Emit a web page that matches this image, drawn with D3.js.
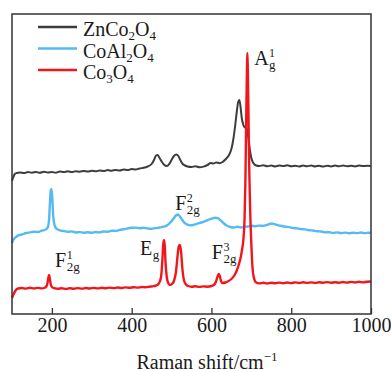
<!DOCTYPE html>
<html>
<head>
<meta charset="utf-8">
<script src="https://cdn.jsdelivr.net/npm/d3@7"></script>
<style>
  body { margin: 0; background: #fff; }
  text { font-family: "Liberation Serif", "Times New Roman", serif; fill: #1a1a1a; }
</style>
</head>
<body>
<div id="chart"></div>
<script>
// Raman spectra, stacked (intensity in arbitrary units, offsets included)
const seriesNames = ["ZnCo₂O₄", "CoAl₂O₄", "Co₃O₄"];
const legendParts = [["ZnCo", "2", "O", "4"], ["CoAl", "2", "O", "4"], ["Co", "3", "O", "4"]];
const xTicks = [200, 400, 600, 800, 1000];

const znco2o4 = [
  [100,133],[103,136.5],[107,140],[112,141],[120,141.6],[130,140.9],[140,142],[150,141.3],[160,142.1],
  [170,141.2],[180,142.3],[190,141.5],[200,142],[210,141.3],[220,142.4],[230,141.9],[240,142.7],
  [250,141.9],[260,142.8],[270,142.3],[280,143.1],[290,142.4],[300,143.2],[310,142.7],[320,143.6],
  [330,142.9],[340,143.9],[350,143.3],[360,144.1],[370,143.5],[380,144.5],[390,143.9],[400,145],
  [410,144.5],[420,145.6],[430,146.2],[440,147.5],[450,150],[456,154],[461,158.5],[465,159],
  [470,156],[476,152],[482,149],[488,148],[494,150],[500,154],[506,158],[512,159.5],[517,158],
  [522,154],[528,150],[534,148.5],[540,147.5],[550,147],[560,147.7],[570,146.8],[580,147.4],
  [590,149],[598,151],[605,150.4],[612,151.6],[620,150.8],[628,152],[636,155],[644,159],[650,165],
  [655,175],[660,190],[664,204],[667,212],[670,214],[673,207],[676,196],[680,189],[684,186.5],
  [688,186],[692,178],[696,165],[700,156],[705,151],[712,148.5],[720,148],[730,148.7],[740,147.8],
  [750,148.5],[760,147.6],[770,148.4],[780,147.9],[790,148.7],[800,147.8],[810,148.3],[820,147.5],
  [830,148.4],[840,147.7],[850,148.5],[860,147.6],[870,148.2],[880,147.4],[890,148.3],[900,147.6],
  [910,148.4],[920,147.8],[930,148.5],[940,147.7],[950,148.2],[960,147.6],[970,148.4],[980,147.9],
  [990,148.3],[1000,148]
];

const coal2o4 = [
  [100,71],[103,74],[110,77],[118,79],[125,79.5],[135,81],[145,81.6],[155,82.3],[165,82],[175,83.4],
  [182,84],[186,85],[190,87],[193,95],[195,110],[197,123],[199,125],[201,116],[203,100],[206,90],
  [210,86],[215,84.5],[222,83.4],[230,83],[240,82.2],[250,82.6],[260,81.5],[270,81.9],[280,81.2],
  [290,81.8],[300,81.3],[310,82],[320,81.6],[330,82.5],[340,82.2],[350,83.3],[360,83.1],[370,84.2],
  [380,84.8],[390,85.6],[400,86.2],[410,86.4],[420,85.7],[430,86.3],[440,85.5],[450,85.2],[460,85.9],
  [470,86.5],[480,87.3],[490,89],[498,92],[505,95.5],[511,98.5],[516,99.5],[521,97.5],[527,94],
  [533,91],[540,89.3],[547,88.6],[555,89.2],[565,90.4],[575,91.5],[585,93],[595,94.6],[603,95.7],
  [610,96.3],[616,95.8],[622,94],[630,91],[638,88.4],[647,87],[656,86.5],[665,87.3],[675,86.6],
  [684,87.2],[692,87.5],[700,88.2],[710,87.7],[720,88.4],[730,88.1],[740,89.2],[748,90.2],
  [754,90.4],[760,89.6],[768,88.6],[776,88],[785,87.3],[795,86.9],[805,86],[815,85.6],[825,84.9],
  [835,84.6],[845,83.8],[855,83.5],[865,82.7],[875,82.5],[885,81.6],[895,81.8],[905,81.1],[915,81.6],
  [925,80.9],[935,81.4],[945,80.8],[955,81.3],[965,80.9],[975,81.5],[985,80.9],[995,81.3],[1000,81.1]
];

const co3o4 = [
  [100,16],[103,19],[108,23],[115,25.5],[125,26],[135,25.4],[145,26.2],[155,25.5],[165,26.1],
  [175,25.6],[182,26.3],[186,27.5],[189,31],[191,36],[193,39],[195,35],[197,30],[200,27],[206,25.8],
  [215,25.2],[225,25.7],[235,25.1],[245,25.8],[255,25.3],[265,25.9],[275,25.4],[285,26],[295,25.5],
  [305,26.1],[315,25.6],[325,26.2],[335,25.8],[345,26.4],[355,25.9],[365,26.5],[375,26],[385,26.6],
  [395,26.2],[405,26.8],[415,26.4],[425,27],[435,26.7],[445,27.3],[455,27.9],[462,28.6],[467,30],
  [471,33],[474,38],[477,54],[479,69],[481,74],[483,68],[485,51],[488,37],[492,30.5],[496,29],
  [501,30],[506,33],[511,42],[515,58],[518,67.5],[521,69],[524,62],[527,46],[531,34],[536,29.5],
  [542,28],[550,27.3],[560,27.8],[570,27.1],[580,27.6],[590,27.3],[600,28],[606,29],[611,32],
  [615,37],[618,40],[621,38],[624,33],[628,31],[635,31.5],[642,32.8],[650,35],[658,39],[664,44],
  [669,50],[673,56],[677,65],[680,74],[683,95],[685,130],[687,190],[689,245],[690,261],[691,248],
  [693,195],[695,140],[697,105],[700,70],[703,46],[706,37],[712,31.5],[720,30.6],[730,31.2],
  [740,30.5],[750,31.3],[760,30.7],[770,31.4],[780,30.8],[790,31.5],[800,30.9],[810,31.6],[820,31],
  [830,31.7],[840,31.1],[850,31.6],[860,31],[870,31.8],[880,31.2],[890,31.9],[900,31.3],[910,31.8],
  [920,31.2],[930,32],[940,31.4],[950,32.1],[960,31.5],[970,32.2],[980,31.6],[990,32.3],[1000,32.5]
];

// Peak assignments: main letter, subscript, superscript, anchor (shift, intensity)
const peakLabels = [
  { main: "A", sub: "g", sup: "1", shift: 707, value: 249 },
  { main: "F", sub: "2g", sup: "2", shift: 509, value: 104 },
  { main: "F", sub: "2g", sup: "1", shift: 208, value: 47 },
  { main: "E", sub: "g", sup: "", shift: 421, value: 59 },
  { main: "F", sub: "2g", sup: "3", shift: 601, value: 55 }
];

const colors = ["#3d3d3d", "#55baf3", "#f2161b"];
const allSeries = [znco2o4, coal2o4, co3o4];

const width = 391, height = 372;
const margin = { top: 14, right: 20, bottom: 58, left: 12 };

const svg = d3.select("#chart").append("svg")
  .attr("width", width)
  .attr("height", height);

const x = d3.scaleLinear().domain([100, 1000]).range([margin.left, width - margin.right]);
const y = d3.scaleLinear().domain([0, 300]).range([height - margin.bottom, margin.top]);

// x axis with inward ticks
svg.append("g")
  .attr("transform", `translate(0,${height - margin.bottom})`)
  .call(d3.axisBottom(x).tickValues(xTicks).tickFormat(d3.format("d")).tickSize(-6).tickPadding(4))
  .call(g => g.select(".domain").remove())
  .call(g => g.selectAll("line").attr("stroke", "#333").attr("stroke-width", 1.3))
  .call(g => g.selectAll("text")
    .style("font-family", "'Liberation Serif', 'Times New Roman', serif")
    .style("font-size", "20px").attr("fill", "#1a1a1a"));

// spectra
const line = d3.line()
  .x(d => x(d[0]))
  .y(d => y(d[1]))
  .curve(d3.curveMonotoneX);

allSeries.forEach((s, i) => {
  svg.append("path")
    .datum(s)
    .attr("fill", "none")
    .attr("stroke", colors[i])
    .attr("stroke-width", i === 0 ? 2 : 2.4)
    .attr("stroke-linejoin", "round")
    .attr("d", line);
});

// frame
svg.append("rect")
  .attr("x", margin.left)
  .attr("y", margin.top)
  .attr("width", width - margin.left - margin.right)
  .attr("height", height - margin.top - margin.bottom)
  .attr("fill", "none")
  .attr("stroke", "#333")
  .attr("stroke-width", 1.5);

// legend
const legend = svg.append("g");
legendParts.forEach((parts, i) => {
  const ly = 27 + i * 21.5;
  legend.append("line")
    .attr("x1", 38).attr("x2", 77)
    .attr("y1", ly).attr("y2", ly)
    .attr("stroke", colors[i]).attr("stroke-width", 2.6);
  const t = legend.append("text")
    .attr("x", 83).attr("y", ly + 9)
    .style("font-size", "20px");
  parts.forEach((p, j) => {
    const isSub = j % 2 === 1;
    t.append("tspan")
      .attr("dy", isSub ? 4 : (j === 0 ? 0 : -4))
      .style("font-size", isSub ? "13px" : "20px")
      .text(p);
  });
});

// peak labels: one text each, superscript stacked above the subscript
peakLabels.forEach(p => {
  const px = x(p.shift), py = y(p.value);
  const t = svg.append("text")
    .attr("x", px).attr("y", py)
    .style("font-size", "20px");
  t.append("tspan").text(p.main);
  let back = 0;
  if (p.sup) {
    const s = t.append("tspan")
      .attr("dx", 0.5).attr("dy", -8)
      .style("font-size", "12px")
      .text(p.sup);
    back = s.node().getComputedTextLength();
  }
  t.append("tspan")
    .attr("dx", p.sup ? -back : 0.5).attr("dy", p.sup ? 12 : 4)
    .style("font-size", "13px")
    .text(p.sub);
});

// axis title
const title = svg.append("text")
  .attr("x", 207).attr("y", 369)
  .attr("text-anchor", "middle")
  .style("font-size", "20px");
title.append("tspan").text("Raman shift/cm");
title.append("tspan").attr("dy", -8).style("font-size", "13px").text("−1");
</script>
</body>
</html>
